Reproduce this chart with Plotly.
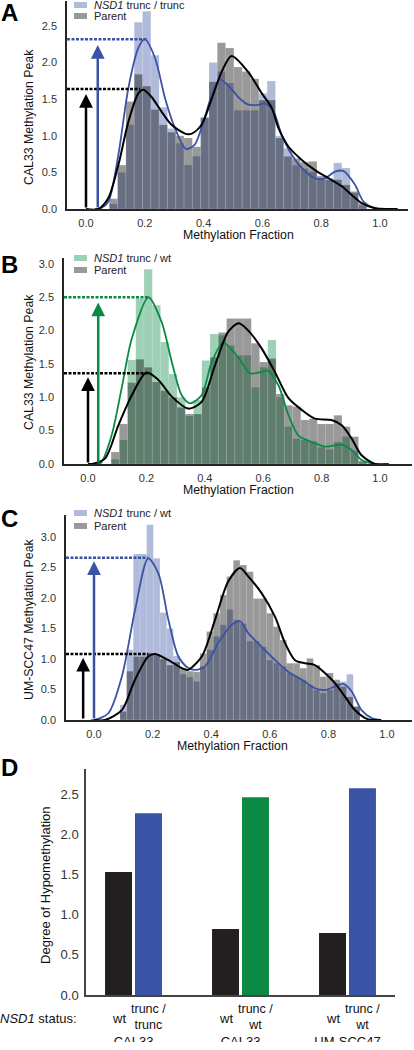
import numpy as np
import plotly.graph_objects as go

W, H = 414, 1050
# the photographed page comes out ~8px taller than the figure and is scaled back to 1050px;
# place everything on a slightly stretched vertical grid so it lands on the reference positions
V_STRETCH = 1058 / 1050

# ---------------- data ----------------
# Panel A : CAL33, NSD1 trunc / trunc vs Parent
A_bin_start, A_bin_width = 0.0793, 0.02825
A_parent_hist = [0.14, 0.60, 1.47, 1.84, 1.68, 1.36, 1.15, 1.05, 1.00, 0.97, 0.85, 1.25, 1.74, 2.27, 2.20, 1.94,
                 1.88, 1.78, 1.49, 1.49, 0.97, 0.72, 0.69, 0.64, 0.65, 0.45, 0.40, 0.40, 0.33, 0.24, 0.08]
A_clone_hist = [0.07, 0.50, 1.15, 2.55, 2.70, 2.10, 1.39, 1.10, 0.90, 0.60, 0.72, 1.25, 2.00, 1.88, 1.72, 1.35,
                1.35, 1.35, 1.58, 1.75, 1.00, 0.83, 0.60, 0.55, 0.51, 0.42, 0.42, 0.63, 0.56, 0.22, 0.05]
A_parent_kde_x = [0.0, 0.042, 0.076, 0.11, 0.144, 0.178, 0.195, 0.223, 0.257, 0.291, 0.337, 0.36, 0.393, 0.428,
                  0.462, 0.495, 0.55, 0.598, 0.632, 0.655, 0.689, 0.734, 0.779, 0.825, 0.870, 0.904, 0.938, 0.984,
                  1.03, 1.06]
A_parent_kde_y = [0.0, 0.0, 0.15, 0.60, 1.19, 1.58, 1.63, 1.53, 1.33, 1.15, 1.03, 1.03, 1.15, 1.51,
                  1.88, 2.09, 1.88, 1.58, 1.38, 1.10, 0.85, 0.67, 0.53, 0.42, 0.31, 0.19, 0.08, 0.01,
                  0.0, 0.0]
A_clone_kde_x = [0.03, 0.05, 0.076, 0.11, 0.144, 0.178, 0.2, 0.235, 0.269, 0.303, 0.34, 0.37, 0.40, 0.428, 0.455,
                 0.49, 0.52, 0.55, 0.58, 0.61, 0.638, 0.666, 0.70, 0.734, 0.779, 0.813, 0.847, 0.875, 0.915, 0.944,
                 0.984, 1.02]
A_clone_kde_y = [0.0, 0.01, 0.10, 0.74, 1.65, 2.20, 2.32, 2.06, 1.51, 1.10, 0.82, 0.88, 1.20, 1.56, 1.77,
                 1.66, 1.52, 1.43, 1.42, 1.44, 1.33, 1.01, 0.74, 0.56, 0.42, 0.42, 0.51, 0.52, 0.33, 0.10,
                 0.01, 0.0]
A_peaks = {"parent": (0.184, 1.64), "clone": (0.21, 2.32)}
A_arrows = {"parent": (0.0, 1.57), "clone": (0.04, 2.24)}

# Panel B : CAL33, NSD1 trunc / wt vs Parent
B_bin_start, B_bin_width = 0.079, 0.02825
B_parent_hist = [0.18, 0.60, 1.22, 1.57, 1.45, 1.23, 1.10, 1.00, 0.85, 0.75, 0.75, 1.15, 1.60, 1.97, 2.18, 2.18,
                 2.18, 1.81, 1.53, 1.58, 1.05, 0.88, 0.86, 0.66, 0.68, 0.60, 0.60, 0.73, 0.56, 0.41, 0.05]
B_clone_hist = [0.07, 0.36, 1.56, 2.48, 2.92, 2.38, 1.83, 1.35, 1.00, 0.72, 0.96, 1.55, 1.95, 1.93, 1.78, 1.63,
                1.63, 1.15, 1.45, 1.86, 1.00, 0.56, 0.38, 0.36, 0.34, 0.25, 0.22, 0.33, 0.41, 0.20, 0.03]
B_parent_kde_x = [0.0, 0.013, 0.058, 0.104, 0.15, 0.2, 0.241, 0.287, 0.344, 0.389, 0.435, 0.48, 0.516, 0.549,
                  0.595, 0.64, 0.686, 0.732, 0.777, 0.834, 0.869, 0.903, 0.937, 0.983, 1.03]
B_parent_kde_y = [0.0, 0.0, 0.08, 0.58, 1.03, 1.37, 1.26, 1.01, 0.83, 0.93, 1.48, 1.98, 2.11, 2.0,
                  1.73, 1.38, 0.99, 0.81, 0.68, 0.66, 0.58, 0.38, 0.13, 0.0, 0.0]
B_clone_kde_x = [0.03, 0.045, 0.081, 0.115, 0.15, 0.207, 0.252, 0.287, 0.321, 0.349, 0.389, 0.424, 0.463, 0.503,
                 0.53, 0.555, 0.595, 0.615, 0.652, 0.686, 0.72, 0.766, 0.811, 0.869, 0.903, 0.937, 0.983, 1.02]
B_clone_kde_y = [0.0, 0.02, 0.43, 1.13, 1.88, 2.50, 2.13, 1.53, 1.03, 0.91, 1.03, 1.53, 1.82, 1.66,
                 1.50, 1.36, 1.38, 1.40, 1.18, 0.74, 0.43, 0.33, 0.26, 0.29, 0.21, 0.06, 0.0, 0.0]
B_peaks = {"parent": (0.205, 1.36), "clone": (0.205, 2.50)}
B_arrows = {"parent": (0.0, 1.30), "clone": (0.035, 2.42)}

# Panel C : UM-SCC47, NSD1 trunc / wt vs Parent
C_bin_start, C_bin_width = 0.0887, 0.02275
C_parent_hist = [0.14, 0.80, 1.04, 1.04, 1.10, 1.08, 1.00, 0.90, 0.95, 0.85, 0.80, 0.79, 1.09, 1.45, 1.75, 2.05,
                 2.35, 2.62, 2.54, 2.43, 1.99, 1.99, 1.75, 1.53, 1.31, 0.93, 0.93, 0.85, 1.01, 0.90, 0.71, 0.77,
                 0.66, 0.55, 0.38, 0.22]
C_clone_hist = [0.25, 1.15, 2.72, 2.72, 3.20, 2.65, 1.76, 1.50, 1.05, 0.75, 0.70, 0.63, 0.88, 1.15, 1.37, 1.56,
                1.81, 1.64, 1.58, 1.29, 1.29, 1.20, 0.98, 0.93, 0.88, 0.77, 0.71, 0.66, 0.57, 0.49, 0.44, 0.49,
                0.60, 0.63, 0.75, 0.22]
C_parent_kde_x = [0.0, 0.038, 0.095, 0.14, 0.185, 0.208, 0.254, 0.3, 0.32, 0.368, 0.413, 0.458, 0.498, 0.527,
                  0.572, 0.618, 0.652, 0.686, 0.72, 0.754, 0.788, 0.823, 0.857, 0.891, 0.936, 0.98]
C_parent_kde_y = [0.0, 0.0, 0.16, 0.66, 1.04, 1.08, 0.98, 0.85, 0.82, 1.04, 1.64, 2.27, 2.49, 2.35,
                  2.08, 1.69, 1.26, 0.98, 0.93, 0.90, 0.77, 0.60, 0.38, 0.16, 0.01, 0.0]
C_clone_kde_x = [-0.01, 0.003, 0.049, 0.095, 0.14, 0.185, 0.22, 0.254, 0.288, 0.322, 0.345, 0.379, 0.424, 0.47,
                 0.498, 0.527, 0.572, 0.618, 0.663, 0.709, 0.754, 0.788, 0.823, 0.851, 0.879, 0.913, 0.948, 0.98]
C_clone_kde_y = [0.0, 0.0, 0.11, 0.71, 1.80, 2.65, 2.40, 1.64, 1.04, 0.85, 0.82, 0.88, 1.26, 1.56,
                 1.62, 1.42, 1.20, 0.98, 0.79, 0.66, 0.52, 0.49, 0.55, 0.59, 0.47, 0.16, 0.03, 0.0]
C_peaks = {"parent": (0.185, 1.08), "clone": (0.185, 2.66)}
C_arrows = {"parent": (-0.037, 1.02), "clone": (0.0, 2.60)}

# Panel D : degree of hypomethylation
D_groups = ["CAL33", "CAL33 ", "UM-SCC47"]
D_group_names = ["CAL33", "CAL33", "UM-SCC47"]
D_clone_labels = ["trunc /<br>trunc", "trunc /<br>wt", "trunc /<br>wt"]
D_wt = [1.53, 0.82, 0.77]
D_clone = [2.26, 2.46, 2.57]

# ---------------- style ----------------
BLUE = "#3a53a4"
GREEN = "#0b8a45"
BLACK = "#000000"
BLUE_FILL = "rgba(58,83,164,0.4)"
GREEN_FILL = "rgba(11,138,69,0.4)"
PARENT_FILL = "rgba(0,0,0,0.4)"
AXIS_COL = "#262626"
FONT = "Liberation Sans, Arial, sans-serif"


def px(x):
    return x / W


def py(y):
    return min(1.0, max(0.0, 1 - y * V_STRETCH / H))


fig = go.Figure()

panels = [
    dict(name="A", xa="x", ya="y", start=A_bin_start, width=A_bin_width, ph=A_parent_hist, ch=A_clone_hist,
         pkx=A_parent_kde_x, pky=A_parent_kde_y, ckx=A_clone_kde_x, cky=A_clone_kde_y,
         peaks=A_peaks, arrows=A_arrows, col=BLUE, fill=BLUE_FILL,
         label="<i>NSD1</i> trunc / trunc", ytitle="CAL33 Methylation Peak",
         xdom=(67, 408), ydom=(209, 1), xzero=86, xunit=294, yunit=73.2,
         yticks=[0, 0.5, 1.0, 1.5, 2.0, 2.5], leg_y=(5, 16), letter_y=13, ytitle_y=117, xtitle_y=235,
         xtitle_x=238),
    dict(name="B", xa="x2", ya="y2", start=B_bin_start, width=B_bin_width, ph=B_parent_hist, ch=B_clone_hist,
         pkx=B_parent_kde_x, pky=B_parent_kde_y, ckx=B_clone_kde_x, cky=B_clone_kde_y,
         peaks=B_peaks, arrows=B_arrows, col=GREEN, fill=GREEN_FILL,
         label="<i>NSD1</i> trunc / wt", ytitle="CAL33 Methylation Peak",
         xdom=(64, 412), ydom=(464, 258), xzero=88, xunit=292, yunit=66.7,
         yticks=[0, 0.5, 1.0, 1.5, 2.0, 2.5, 3.0], leg_y=(258, 270), letter_y=265, ytitle_y=362, xtitle_y=490,
         xtitle_x=238),
    dict(name="C", xa="x3", ya="y3", start=C_bin_start, width=C_bin_width, ph=C_parent_hist, ch=C_clone_hist,
         pkx=C_parent_kde_x, pky=C_parent_kde_y, ckx=C_clone_kde_x, cky=C_clone_kde_y,
         peaks=C_peaks, arrows=C_arrows, col=BLUE, fill=BLUE_FILL,
         label="<i>NSD1</i> trunc / wt", ytitle="UM-SCC47 Methylation Peak",
         xdom=(66, 412), ydom=(720, 515), xzero=94, xunit=293, yunit=61.0,
         yticks=[0, 0.5, 1.0, 1.5, 2.0, 2.5, 3.0], leg_y=(513, 526), letter_y=519, ytitle_y=620, xtitle_y=746,
         xtitle_x=233),
]

annotations = []
shapes = []
layout_axes = {}

for i, p in enumerate(panels):
    n = "" if i == 0 else str(i + 1)
    centers = p["start"] + p["width"] * (np.arange(len(p["ph"])) + 0.5)
    fig.add_trace(go.Bar(x=centers, y=p["ch"], width=p["width"],
                         marker=dict(color=p["fill"], line=dict(width=0.5, color="rgba(255,255,255,0.25)")),
                         xaxis=p["xa"], yaxis=p["ya"], showlegend=False, hoverinfo="skip"))
    fig.add_trace(go.Bar(x=centers, y=p["ph"], width=p["width"],
                         marker=dict(color=PARENT_FILL, line=dict(width=0.5, color="rgba(255,255,255,0.25)")),
                         xaxis=p["xa"], yaxis=p["ya"], showlegend=False, hoverinfo="skip"))
    fig.add_trace(go.Scatter(x=p["ckx"], y=p["cky"], mode="lines", line=dict(color=p["col"], width=1.8,
                                                                          shape="spline", smoothing=0.8),
                             xaxis=p["xa"], yaxis=p["ya"], showlegend=False, hoverinfo="skip"))
    fig.add_trace(go.Scatter(x=p["pkx"], y=p["pky"], mode="lines", line=dict(color=BLACK, width=2,
                                                                          shape="spline", smoothing=0.8),
                             xaxis=p["xa"], yaxis=p["ya"], showlegend=False, hoverinfo="skip"))

    x0 = (p["xdom"][0] - p["xzero"]) / p["xunit"]
    x1 = (p["xdom"][1] - p["xzero"]) / p["xunit"]
    ytop = (p["ydom"][0] - p["ydom"][1]) / p["yunit"]

    # dotted peak guides + arrows
    for key, col in (("parent", BLACK), ("clone", p["col"])):
        pxk, pyk = p["peaks"][key]
        fig.add_trace(go.Scatter(x=[x0, pxk], y=[pyk, pyk], mode="lines",
                                 line=dict(color=col, width=2.5, dash="3px,1.5px"),
                                 xaxis=p["xa"], yaxis=p["ya"], showlegend=False, hoverinfo="skip",
                                 cliponaxis=False))
        ax_x, tip = p["arrows"][key]
        annotations.append(dict(x=ax_x, y=tip, ax=ax_x, ay=0, xref=p["xa"], yref=p["ya"],
                                axref=p["xa"], ayref=p["ya"], showarrow=True, arrowhead=2, arrowsize=1.1,
                                arrowwidth=2.5, arrowcolor=col, text=""))

    layout_axes["xaxis" + n] = dict(domain=[px(p["xdom"][0]), px(p["xdom"][1])], range=[x0, x1],
                                    anchor=p["ya"], showline=True, linecolor=AXIS_COL, linewidth=1.5,
                                    ticks="outside", ticklen=3, tickcolor="rgba(0,0,0,0)",
                                    tickvals=[0, 0.2, 0.4, 0.6, 0.8, 1.0], tickformat=".1f",
                                    tickfont=dict(size=11, color="#333", family=FONT),
                                    showgrid=False, zeroline=False)
    layout_axes["yaxis" + n] = dict(domain=[py(p["ydom"][0]), py(p["ydom"][1])], range=[0, ytop],
                                    anchor=p["xa"], showline=True, linecolor=AXIS_COL, linewidth=1.5,
                                    ticks="outside", ticklen=6, tickcolor="rgba(0,0,0,0)",
                                    tickvals=p["yticks"], tickformat=".1f",
                                    tickfont=dict(size=11, color="#333", family=FONT),
                                    showgrid=False, zeroline=False)

    # legend (drawn)
    for (ly, lab, fillc) in ((p["leg_y"][0], p["label"], p["fill"]), (p["leg_y"][1], "Parent", PARENT_FILL)):
        shapes.append(dict(type="rect", xref="paper", yref="paper", x0=px(74), x1=px(87),
                           y0=py(ly + 3), y1=py(ly - 3), fillcolor=fillc, line_width=0))
        annotations.append(dict(x=px(92), y=py(ly), xref="paper", yref="paper", text=lab, showarrow=False,
                                xanchor="left", yanchor="middle", font=dict(size=11, color="#222", family=FONT)))
    # titles
    annotations.append(dict(x=px(29), y=py(p["ytitle_y"]), xref="paper", yref="paper", text=p["ytitle"],
                            textangle=-90, showarrow=False, xanchor="center", yanchor="middle",
                            font=dict(size=12.3, color="#111", family=FONT)))
    annotations.append(dict(x=px(p["xtitle_x"]), y=py(p["xtitle_y"]), xref="paper", yref="paper",
                            text="Methylation Fraction", showarrow=False, xanchor="center", yanchor="middle",
                            font=dict(size=12.3, color="#111", family=FONT)))
    annotations.append(dict(x=px(9), y=py(p["letter_y"]), xref="paper", yref="paper", text="<b>%s</b>" % p["name"],
                            showarrow=False, xanchor="center", yanchor="middle",
                            font=dict(size=24, color="#000", family=FONT)))

# ---------------- Panel D ----------------
BARGAP = 0.44
BAR_W = (1 - BARGAP) / 2 * 0.9
d_off = (1 - BARGAP) / 4
fig.add_trace(go.Bar(x=D_groups, y=D_wt, marker=dict(color="#231f20", line_width=0), xaxis="x4", yaxis="y4",
                     width=BAR_W, offset=-d_off - BAR_W / 2, showlegend=False, hoverinfo="skip"))
fig.add_trace(go.Bar(x=D_groups, y=D_clone, marker=dict(color=[BLUE, GREEN, BLUE], line_width=0),
                     width=BAR_W, offset=d_off - BAR_W / 2,
                     xaxis="x4", yaxis="y4", showlegend=False, hoverinfo="skip"))

D_XRANGE = [-0.444, 2.444]
layout_axes["xaxis4"] = dict(domain=[px(86), px(395)], range=D_XRANGE, anchor="y4", type="category",
                             showline=True, linecolor="#444", linewidth=1.5, showticklabels=False, ticks="",
                             showgrid=False, zeroline=False)
layout_axes["yaxis4"] = dict(domain=[py(995), py(769)], range=[0, 226 / 80.4], anchor="x4",
                             showline=True, linecolor="#444", linewidth=1.5, ticks="outside", ticklen=3,
                             tickcolor="rgba(0,0,0,0)", tickvals=[0, 0.5, 1.0, 1.5, 2.0, 2.5], tickformat=".1f",
                             tickfont=dict(size=13, color="#333", family=FONT), showgrid=False, zeroline=False)

# cell-line names: text in a thin invisible strip at the very bottom, clipped at the figure edge
STRIP_TOP, NAME_Y = 1030, 1042.5
STRIP_BOTTOM = H / V_STRETCH
layout_axes["xaxis5"] = dict(domain=[px(86), px(395)], range=D_XRANGE, anchor="y5", visible=False)
layout_axes["yaxis5"] = dict(domain=[py(STRIP_BOTTOM), py(STRIP_TOP)], range=[STRIP_BOTTOM, STRIP_TOP],
                             anchor="x5", visible=False)
fig.add_trace(go.Scatter(x=list(range(len(D_group_names))), y=[NAME_Y] * len(D_group_names), mode="text",
                         text=D_group_names, textposition="middle center", cliponaxis=True,
                         textfont=dict(size=13, color="#111", family=FONT),
                         xaxis="x5", yaxis="y5", showlegend=False, hoverinfo="skip"))

for gi in range(len(D_groups)):
    annotations.append(dict(x=gi - d_off, y=py(1019), xref="x4", yref="paper", text="wt", showarrow=False,
                            xanchor="center", yanchor="middle", font=dict(size=13, color="#111", family=FONT)))
    annotations.append(dict(x=gi + d_off, y=py(1017.5), xref="x4", yref="paper", text=D_clone_labels[gi],
                            showarrow=False, xanchor="center", yanchor="middle", align="center", borderpad=0,
                            font=dict(size=12.5, color="#111", family=FONT)))

annotations.append(dict(x=px(79), y=py(1019), xref="paper", yref="paper", text="<i>NSD1</i> status:",
                        showarrow=False, xanchor="right", yanchor="middle",
                        font=dict(size=13, color="#111", family=FONT)))
annotations.append(dict(x=px(46), y=py(885), xref="paper", yref="paper", text="Degree of Hypomethylation",
                        textangle=-90, showarrow=False, xanchor="center", yanchor="middle",
                        font=dict(size=13, color="#111", family=FONT)))
annotations.append(dict(x=px(9), y=py(768), xref="paper", yref="paper", text="<b>D</b>", showarrow=False,
                        xanchor="center", yanchor="middle", font=dict(size=24, color="#000", family=FONT)))

fig.update_layout(width=W, height=H, autosize=False, margin=dict(l=0, r=0, t=0, b=0),
                  paper_bgcolor="white", plot_bgcolor="rgba(0,0,0,0)", barmode="overlay",
                  font=dict(family=FONT), annotations=annotations, shapes=shapes, **layout_axes)

PAGE_CSS_JS = (
    "var h=document.documentElement,b=document.body;"
    "h.style.margin='0';h.style.padding='0';h.style.overflow='hidden';"
    "b.style.margin='0';b.style.padding='0';b.style.overflow='hidden';"
)
fig.write_html("out.html", config={"displayModeBar": False}, post_script=PAGE_CSS_JS)
